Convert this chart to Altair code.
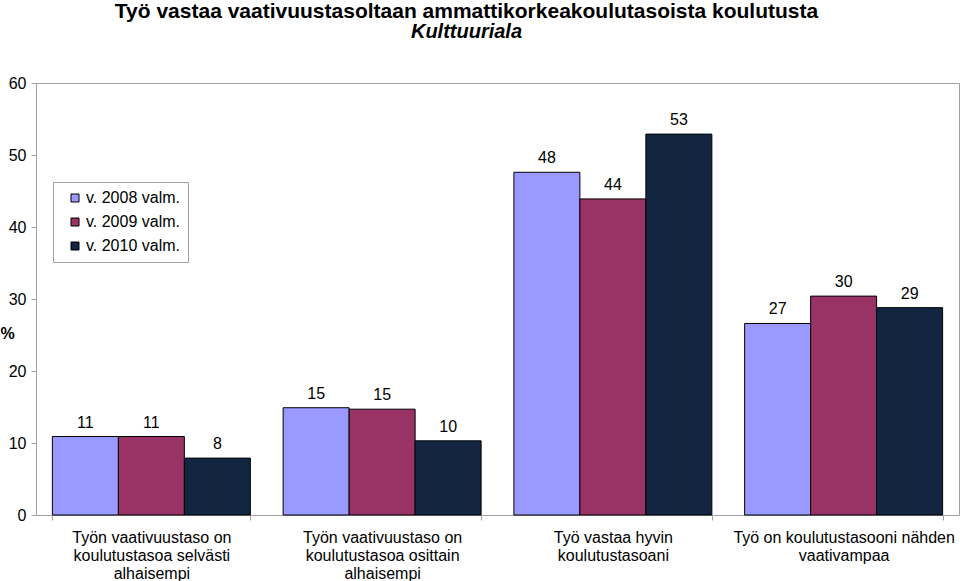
import altair as alt
import pandas as pd

categories = [
    "Työn vaativuustaso on|koulutustasoa selvästi|alhaisempi",
    "Työn vaativuustaso on|koulutustasoa osittain|alhaisempi",
    "Työ vastaa hyvin|koulutustasoani",
    "Työ on koulutustasooni nähden|vaativampaa",
]
series = ["v. 2008 valm.", "v. 2009 valm.", "v. 2010 valm."]
v2008 = [10.9, 14.9, 47.6, 26.6]
v2009 = [10.9, 14.7, 43.9, 30.4]
v2010 = [7.9, 10.3, 52.9, 28.8]
colors = ["#9999FF", "#993366", "#132641"]

rows = []
for s, vals in zip(series, [v2008, v2009, v2010]):
    for c, v in zip(categories, vals):
        rows.append({"cat": c, "series": s, "value": v})
df = pd.DataFrame(rows)

FONT = "Liberation Sans"
FS = 16

x = alt.X("cat:N", sort=categories, title=None,
          scale=alt.Scale(paddingInner=0.142, paddingOuter=0.071),
          axis=alt.Axis(labelExpr="split(datum.label, '|')", labelAngle=0,
                        labelFontSize=FS, labelFont=FONT, labelColor="#000",
                        labelPadding=9, labelLineHeight=18, labelBaseline="top",
                        labelLimit=0,
                        tickBand="extent", tickSize=5, tickColor="#a0a0a0",
                        domainColor="#a0a0a0", grid=False))
y = alt.Y("value:Q", title="%",
          scale=alt.Scale(domain=[0, 60], nice=False),
          axis=alt.Axis(values=[0, 10, 20, 30, 40, 50, 60], labelFontSize=FS,
                        labelFont=FONT, labelColor="#000", labelPadding=5,
                        tickSize=5, tickColor="#a0a0a0", domainColor="#a0a0a0",
                        grid=False, titleAngle=0, titleX=-36, titleY=250,
                        titleAlign="left", titleBaseline="middle",
                        titleFontSize=16, titleFont=FONT, titleColor="#000",
                        titleFontWeight="bold"))
xo = alt.XOffset("series:N", sort=series)

bars = alt.Chart(df).mark_bar(stroke="#000", strokeWidth=1).encode(
    x=x, y=y, xOffset=xo,
    color=alt.Color("series:N", sort=series,
                    scale=alt.Scale(domain=series, range=colors),
                    legend=alt.Legend(title=None, orient="none", legendX=17, legendY=99,
                                      symbolType="square", symbolSize=64,
                                      symbolStrokeColor="#000", symbolStrokeWidth=1,
                                      labelFontSize=FS, labelFont=FONT, labelColor="#000",
                                      rowPadding=8, strokeColor="#a0a0a0", fillColor="#fff",
                                      padding=8, symbolOffset=6, labelOffset=3)),
)

labels = alt.Chart(df).mark_text(baseline="bottom", dy=-6, fontSize=FS, font=FONT,
                                 color="#000").encode(
    x=x, y=y, xOffset=xo,
    text=alt.Text("value:Q", format=".0f"),
)

chart = alt.layer(bars, labels).properties(
    width=923, height=432,
    autosize=alt.AutoSizeParams(type="none"),
    padding={"left": 36, "top": 83, "right": 1, "bottom": 66},
    title=alt.TitleParams(
        text="Työ vastaa vaativuustasoltaan ammattikorkeakoulutasoista koulutusta",
        subtitle="Kulttuuriala",
        fontSize=21, font=FONT, fontWeight="bold", color="#000",
        subtitleFontSize=20, subtitleFont=FONT, subtitleFontWeight="bold",
        subtitleFontStyle="italic", subtitleColor="#000", subtitlePadding=0,
        anchor="middle", dx=-31, offset=33,
    ),
).configure_view(stroke="#a0a0a0", strokeWidth=1)

chart.save("out.html", embed_options={"renderer": "svg", "actions": False})
